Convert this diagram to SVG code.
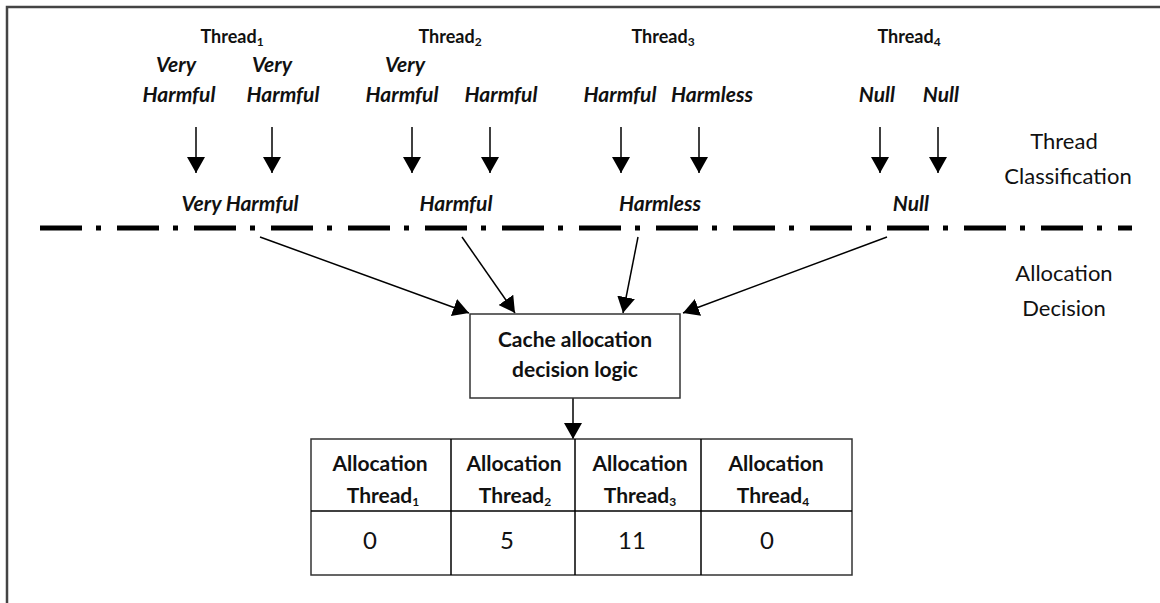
<svg xmlns="http://www.w3.org/2000/svg" width="1160" height="603" viewBox="0 0 1160 603">
<defs>
<marker id="ahd" viewBox="0 0 16 18" markerWidth="16" markerHeight="18" refX="16" refY="9" orient="auto" markerUnits="userSpaceOnUse">
<path d="M0,0 L16,9 L0,18 Z" fill="#000"/>
</marker>
<style>
.t{font-family:Lato,"Open Sans","Liberation Sans",sans-serif;fill:#111}
.th{font-size:18px;font-weight:bold;text-anchor:middle}
.lab{font-size:21px;font-weight:bold;font-style:italic;text-anchor:middle}
.side{font-size:22px;text-anchor:middle}
.box{font-size:21px;font-weight:bold;text-anchor:middle}
.val{font-size:24px;text-anchor:middle}
.sub{font-size:12px}
.ln{stroke:#000;stroke-width:1.5;fill:none}
.cell{stroke:#333;stroke-width:1.5;fill:#fff}
</style>
</defs>
<rect width="1160" height="603" fill="#fff"/>
<path d="M7,603 L7,7 L1160,7" stroke="#444" stroke-width="2.5" fill="none"/>

<g id="threads">
<text class="t th" x="232" y="43">Thread<tspan class="sub" dy="3">1</tspan></text>
<text class="t th" x="450" y="43">Thread<tspan class="sub" dy="3">2</tspan></text>
<text class="t th" x="663" y="43">Thread<tspan class="sub" dy="3">3</tspan></text>
<text class="t th" x="909" y="43">Thread<tspan class="sub" dy="3">4</tspan></text>
</g>

<g id="labels">
<text class="t lab" x="176" y="72">Very</text>
<text class="t lab" x="179" y="102">Harmful</text>
<text class="t lab" x="272" y="72">Very</text>
<text class="t lab" x="283" y="102">Harmful</text>
<text class="t lab" x="405" y="72">Very</text>
<text class="t lab" x="402" y="102">Harmful</text>
<text class="t lab" x="501" y="102">Harmful</text>
<text class="t lab" x="620" y="102">Harmful</text>
<text class="t lab" x="712" y="102">Harmless</text>
<text class="t lab" x="877" y="102">Null</text>
<text class="t lab" x="941" y="102">Null</text>
<text class="t lab" x="240" y="211">Very Harmful</text>
<text class="t lab" x="456" y="211">Harmful</text>
<text class="t lab" x="660" y="211">Harmless</text>
<text class="t lab" x="911" y="211">Null</text>
</g>

<g id="side-labels">
<text class="t side" x="1064" y="149">Thread</text>
<text class="t side" x="1068" y="184">Classification</text>
<text class="t side" x="1064" y="281">Allocation</text>
<text class="t side" x="1064" y="316">Decision</text>
</g>

<g id="separator">
<line x1="40" y1="228" x2="1132" y2="228" stroke="#000" stroke-width="5" stroke-dasharray="42 14 5 16"/>
</g>

<g id="connectors">
<line class="ln" x1="196" y1="127" x2="196" y2="173" marker-end="url(#ahd)"/>
<line class="ln" x1="272" y1="127" x2="272" y2="173" marker-end="url(#ahd)"/>
<line class="ln" x1="412" y1="127" x2="412" y2="173" marker-end="url(#ahd)"/>
<line class="ln" x1="490" y1="127" x2="490" y2="173" marker-end="url(#ahd)"/>
<line class="ln" x1="621" y1="127" x2="621" y2="173" marker-end="url(#ahd)"/>
<line class="ln" x1="699" y1="127" x2="699" y2="173" marker-end="url(#ahd)"/>
<line class="ln" x1="880" y1="127" x2="880" y2="173" marker-end="url(#ahd)"/>
<line class="ln" x1="938" y1="127" x2="938" y2="173" marker-end="url(#ahd)"/>
<line class="ln" x1="260" y1="237" x2="469" y2="313" marker-end="url(#ahd)"/>
<line class="ln" x1="462" y1="237" x2="515" y2="313" marker-end="url(#ahd)"/>
<line class="ln" x1="638" y1="237" x2="623" y2="313" marker-end="url(#ahd)"/>
<line class="ln" x1="887" y1="237" x2="683" y2="313" marker-end="url(#ahd)"/>
<line class="ln" x1="573" y1="398" x2="573" y2="439" marker-end="url(#ahd)"/>
</g>

<g id="decision-logic">
<rect class="cell" x="470" y="314" width="210" height="84"/>
<text class="t box" x="575" y="347">Cache allocation</text>
<text class="t box" x="575" y="377">decision logic</text>
</g>

<g id="allocation-table">
<rect class="cell" x="311" y="439" width="541" height="136"/>
<line class="ln" x1="311" y1="511" x2="852" y2="511" stroke="#333"/>
<line class="ln" x1="451" y1="439" x2="451" y2="575" stroke="#333"/>
<line class="ln" x1="575" y1="439" x2="575" y2="575" stroke="#333"/>
<line class="ln" x1="701" y1="439" x2="701" y2="575" stroke="#333"/>
<text class="t box" x="380" y="471">Allocation</text>
<text class="t box" x="383" y="503">Thread<tspan class="sub" dy="3">1</tspan></text>
<text class="t box" x="514" y="471">Allocation</text>
<text class="t box" x="515" y="503">Thread<tspan class="sub" dy="3">2</tspan></text>
<text class="t box" x="640" y="471">Allocation</text>
<text class="t box" x="640" y="503">Thread<tspan class="sub" dy="3">3</tspan></text>
<text class="t box" x="776" y="471">Allocation</text>
<text class="t box" x="773" y="503">Thread<tspan class="sub" dy="3">4</tspan></text>
<text class="t val" x="370" y="549">0</text>
<text class="t val" x="507" y="549">5</text>
<text class="t val" x="632" y="549">11</text>
<text class="t val" x="767" y="549">0</text>
</g>
</svg>
